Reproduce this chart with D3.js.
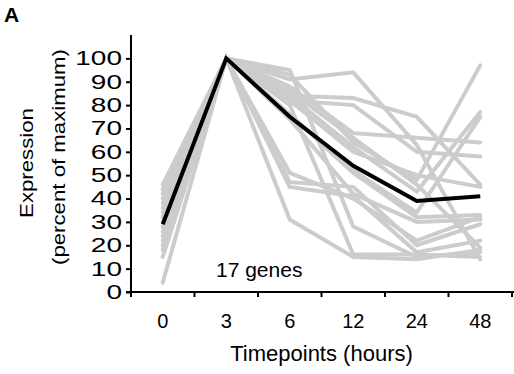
<!DOCTYPE html>
<html lang="en">
<head>
    <meta charset="UTF-8">
    <title>Expression timecourse</title>
    <script src="https://d3js.org/d3.v7.min.js"></script>
    <style>
        body { margin: 0; background: #fff; }
        text { font-family: "Liberation Sans", Arial, sans-serif; fill: #000; }
    </style>
</head>
<body>
<svg width="514" height="374"></svg>
<script>
    // x categories (hours) and y ticks
    var timepoints = ["0", "3", "6", "12", "24", "48"];
    var yTicks = [0, 10, 20, 30, 40, 50, 60, 70, 80, 90, 100];

    // one row per gene, values at each timepoint (percent of maximum)
    var genes = [
        [46, 100, 91, 94, 63, 14],
        [44, 100, 84, 83, 75, 46],
        [42, 100, 82, 80, 60, 58],
        [40, 100, 95, 28, 15, 17],
        [38, 100, 88, 68, 66, 64],
        [36, 100, 86, 66, 46, 19],
        [34, 100, 93, 64, 48, 97],
        [32, 100, 84, 62, 43, 77],
        [30, 100, 82, 60, 50, 45],
        [28, 100, 76, 52, 34, 75],
        [26, 100, 76, 51, 32, 33],
        [24, 100, 74, 42, 30, 31],
        [22, 100, 51, 40, 22, 32],
        [20, 100, 47, 45, 20, 29],
        [18, 100, 45, 41, 17, 22],
        [15, 100, 31, 15, 14, 18],
        [4, 100, 80, 16, 16, 15]
    ];
    // average line (black)
    var meanLine = [29, 100, 75, 54, 39, 41];

    var svg = d3.select("svg");
    var plotLeft = 131, plotRight = 512, plotTop = 35, plotBottom = 292;

    var x = d3.scaleBand().domain(timepoints).range([plotLeft, plotRight]).padding(0);
    var y = d3.scaleLinear().domain([0, 110]).range([plotBottom, plotTop]);

    var line = d3.line()
        .x(function (d, i) { return x(timepoints[i]) + x.bandwidth() / 2; })
        .y(function (d) { return y(d); });

    svg.selectAll("path.gene").data(genes).enter()
        .append("path")
        .attr("class", "gene")
        .attr("d", line)
        .attr("fill", "none")
        .attr("stroke", "#cccccc")
        .attr("stroke-width", 4)
        .attr("stroke-linecap", "round");

    svg.append("path")
        .attr("d", line(meanLine))
        .attr("fill", "none")
        .attr("stroke", "#000")
        .attr("stroke-width", 4);

    // y axis (labels are drawn wide, like the original)
    var yAxis = svg.append("g")
        .attr("transform", "translate(" + plotLeft + ",0)")
        .call(d3.axisLeft(y).tickValues(yTicks).tickSize(5).tickSizeOuter(0));
    yAxis.select(".domain").attr("stroke-width", 2).attr("d", "M0," + plotTop + "V" + plotBottom);
    yAxis.selectAll(".tick line").attr("stroke-width", 2);
    yAxis.selectAll(".tick text")
        .attr("font-family", null)
        .attr("x", -9 / 1.4)
        .attr("transform", "scale(1.4,1)")
        .style("font-size", "20px");

    // x axis: ticks sit between categories
    var xAxis = svg.append("g").attr("transform", "translate(0," + plotBottom + ")");
    xAxis.append("line")
        .attr("x1", plotLeft - 5).attr("x2", plotRight + 2)
        .attr("stroke", "#000").attr("stroke-width", 2);
    var bounds = timepoints.map(function (t) { return x(t); }).concat([plotRight]);
    xAxis.selectAll("line.tk").data(bounds).enter()
        .append("line")
        .attr("class", "tk")
        .attr("x1", function (d) { return d; }).attr("x2", function (d) { return d; })
        .attr("y1", 0).attr("y2", 5)
        .attr("stroke", "#000").attr("stroke-width", 2);
    xAxis.selectAll("text").data(timepoints).enter()
        .append("text")
        .attr("x", function (d) { return x(d) + x.bandwidth() / 2; })
        .attr("y", 36)
        .attr("text-anchor", "middle")
        .style("font-size", "20px")
        .text(function (d) { return d; });

    svg.append("text")
        .attr("x", (plotLeft + plotRight) / 2).attr("y", 361)
        .attr("text-anchor", "middle")
        .style("font-size", "22px")
        .text("Timepoints (hours)");

    // y title, two rotated lines, slightly stretched like the original
    svg.append("text")
        .attr("transform", "translate(33,163) rotate(-90) scale(1.17,1)")
        .attr("text-anchor", "middle")
        .style("font-size", "19px")
        .text("Expression");
    svg.append("text")
        .attr("transform", "translate(65,157) rotate(-90) scale(1.17,1)")
        .attr("text-anchor", "middle")
        .style("font-size", "19px")
        .text("(percent of maximum)");

    svg.append("text")
        .attr("x", 216).attr("y", 277)
        .style("font-size", "21px")
        .text("17 genes");

    svg.append("text")
        .attr("x", 4).attr("y", 22)
        .style("font-size", "21px")
        .style("font-weight", "bold")
        .text("A");
</script>
</body>
</html>
